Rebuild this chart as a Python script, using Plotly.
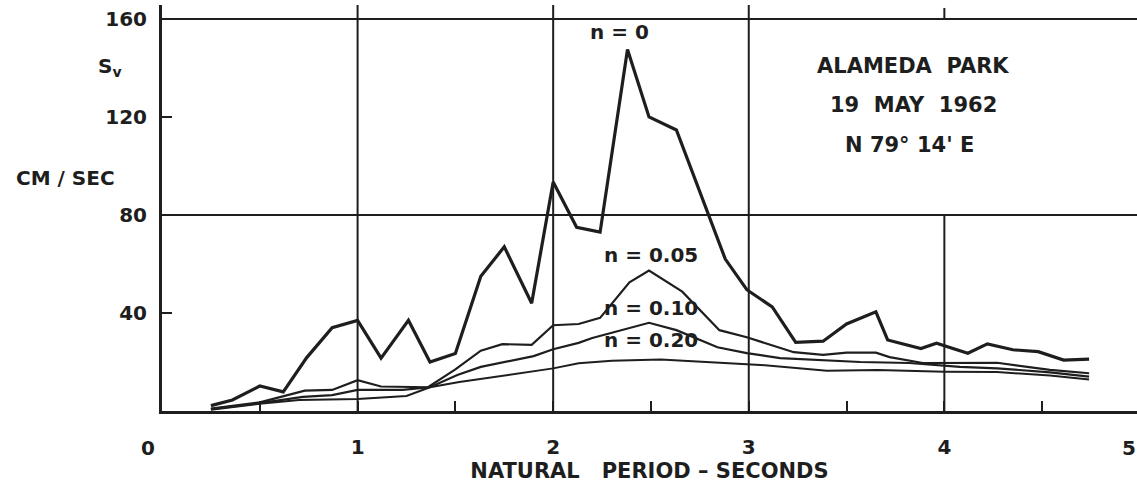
import plotly.graph_objects as go

# ---- data ----
period_n0 = [0.25, 0.36, 0.50, 0.62, 0.74, 0.87, 1.00, 1.12, 1.26, 1.37, 1.50, 1.63, 1.75, 1.89,
             2.00, 2.12, 2.24, 2.38, 2.49, 2.63, 2.88, 2.99, 3.12, 3.24, 3.38, 3.50, 3.65, 3.71,
             3.88, 3.96, 4.12, 4.22, 4.35, 4.48, 4.61, 4.74]
sv_n0 = [2.2, 4.5, 10.2, 7.8, 21.8, 34.0, 37.0, 21.6, 37.0, 20.0, 23.5, 55.0, 67.0, 44.0,
         93.5, 75.0, 73.0, 147.5, 120.0, 114.7, 62.0, 49.5, 42.5, 28.0, 28.5, 35.5, 40.5, 29.0,
         25.5, 27.7, 23.6, 27.4, 25.0, 24.2, 20.8, 21.2]

period_n005 = [0.25, 0.50, 0.73, 0.87, 1.00, 1.12, 1.36, 1.50, 1.63, 1.74, 1.89, 2.00, 2.13, 2.24,
               2.39, 2.49, 2.66, 2.85, 2.99, 3.23, 3.38, 3.50, 3.65, 3.72, 3.89, 4.00, 4.27, 4.54, 4.74]
sv_n005 = [1.0, 3.5, 8.3, 8.6, 12.6, 10.0, 9.7, 17.0, 24.6, 27.3, 27.0, 35.0, 35.5, 38.0,
           52.5, 57.3, 48.7, 33.0, 30.1, 24.0, 22.9, 23.8, 23.8, 22.0, 19.6, 19.7, 19.7, 16.8, 15.4]

period_n010 = [0.25, 0.50, 0.72, 0.87, 1.00, 1.23, 1.37, 1.51, 1.63, 1.76, 1.90, 2.00, 2.13, 2.20,
               2.49, 2.63, 2.84, 2.99, 3.16, 3.57, 3.82, 4.08, 4.27, 4.54, 4.74]
sv_n010 = [0.8, 3.2, 5.8, 6.5, 8.6, 8.6, 9.7, 14.7, 18.0, 20.0, 22.4, 25.2, 27.8, 29.8,
           36.0, 33.0, 26.0, 23.6, 21.6, 20.0, 19.6, 18.0, 17.4, 15.8, 14.0]

period_n020 = [0.25, 0.50, 0.70, 1.00, 1.25, 1.37, 1.52, 1.69, 1.89, 2.00, 2.13, 2.30, 2.55, 2.85,
               3.06, 3.40, 3.66, 4.00, 4.27, 4.54, 4.74]
sv_n020 = [0.5, 3.0, 4.5, 4.9, 6.1, 9.7, 11.8, 13.7, 16.0, 17.4, 19.5, 20.5, 21.0, 19.6,
           18.8, 16.4, 16.7, 16.0, 15.9, 14.5, 12.9]

y_tick_vals = [40, 80, 120, 160]
x_label_vals = [1, 2, 3, 4]
x_minor_vals = [0.5, 1.5, 2.5, 3.5, 4.5]

INK = "#1e1e1e"
FONT = "DejaVu Sans"

fig = go.Figure()
series = [
    (period_n0, sv_n0, 3.2),
    (period_n005, sv_n005, 2.2),
    (period_n010, sv_n010, 2.2),
    (period_n020, sv_n020, 2.0),
]
for px, sv, w in series:
    fig.add_trace(go.Scatter(x=px, y=sv, mode="lines",
                             line=dict(color=INK, width=w), showlegend=False,
                             hoverinfo="skip"))

XMAX = 4.985
YMAX = 165.7

fig.update_layout(
    width=1137, height=492,
    margin=dict(l=162, r=0, t=5, b=81),
    paper_bgcolor="white", plot_bgcolor="white",
    font=dict(family=FONT, color=INK),
    xaxis=dict(range=[0, XMAX], showgrid=False, zeroline=False,
               showline=True, linecolor=INK, linewidth=3,
               ticks="inside", ticklen=10, tickwidth=2, tickcolor=INK,
               tickvals=x_label_vals, ticktext=[str(v) for v in x_label_vals],
               minor=dict(tickvals=x_minor_vals, ticks="inside", ticklen=10,
                          tickwidth=2, tickcolor=INK, showgrid=False),
               tickfont=dict(size=20, family=FONT, weight="bold"),
               ticklabelstandoff=16,
               title=dict(text="NATURAL   PERIOD – SECONDS", standoff=2,
                          font=dict(size=21, family=FONT, color=INK, weight="bold"))),
    yaxis=dict(range=[0, YMAX], showgrid=False, zeroline=False,
               showline=True, linecolor=INK, linewidth=3,
               ticks="inside", ticklen=10, tickwidth=2, tickcolor=INK,
               tickvals=y_tick_vals,
               tickfont=dict(size=20, family=FONT, weight="bold"),
               ticklabelstandoff=8),
)

shapes = []
for xv in [1, 2, 3]:
    shapes.append(dict(type="line", xref="x", yref="y", x0=xv, x1=xv, y0=0, y1=YMAX,
                       line=dict(color=INK, width=2)))
shapes.append(dict(type="line", xref="x", yref="y", x0=4, x1=4, y0=0, y1=80,
                   line=dict(color=INK, width=2)))
shapes.append(dict(type="line", xref="x", yref="y", x0=4, x1=4, y0=160, y1=164.5,
                   line=dict(color=INK, width=2)))
for yv in [80, 160]:
    shapes.append(dict(type="line", xref="x", yref="y", x0=0, x1=XMAX, y0=yv, y1=yv,
                       line=dict(color=INK, width=2)))
fig.update_layout(shapes=shapes)

def ann(text, x, y, size=20, ref="x", weight="bold"):
    fig.add_annotation(text=text, x=x, y=y,
                       xref="x" if ref == "x" else "paper",
                       yref="y" if ref == "x" else "paper",
                       showarrow=False, xanchor="center", yanchor="middle",
                       font=dict(size=size, family=FONT, color=INK, weight=weight))

# labels outside the plotting area (paper coordinates)
ann("0", -0.0144, -0.091, ref="paper")
ann("5", 0.9918, -0.091, ref="paper")
ann("S<sub>v</sub>", -0.0533, 0.8473, size=20, ref="paper")
ann("CM / SEC", -0.0985, 0.5739, size=20, ref="paper")

# curve labels
ann("n = 0", 2.34, 154.5, size=20)
ann("n = 0.05", 2.50, 63.7, size=20)
ann("n = 0.10", 2.50, 42.0, size=20)
ann("n = 0.20", 2.50, 29.0, size=20)

ann("ALAMEDA  PARK", 3.84, 141.0, size=21)
ann("19  MAY  1962", 3.84, 125.0, size=21)
ann("N 79° 14' E", 3.82, 108.6, size=21)

fig.write_html("out.html")
